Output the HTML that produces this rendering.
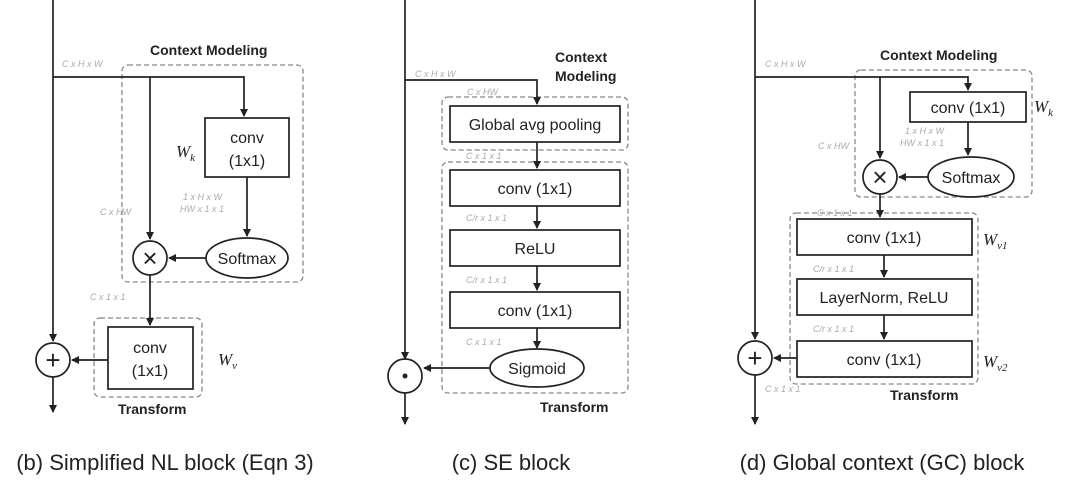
<!DOCTYPE html>
<html><head><style>
body{margin:0;background:#fff;}
svg{display:block;font-family:"Liberation Sans",sans-serif;}
.b{fill:#fff;stroke:#222;stroke-width:1.7}
.d{fill:none;stroke:#888;stroke-width:1.3;stroke-dasharray:5,3}
.l{stroke:#222;stroke-width:1.7;fill:none}
.t{font-size:16px;fill:#222;text-anchor:middle}
.s{font-size:9px;fill:#aaa;font-style:italic}
.h{font-size:14px;font-weight:bold;fill:#222}
.w{font-family:"Liberation Serif",serif;font-style:italic;font-size:17px;fill:#222}
.c{font-size:26px;fill:#222;text-anchor:middle}
.cap{font-size:22px;fill:#222;text-anchor:middle}
</style></head><body>
<svg width="1080" height="503" viewBox="0 0 1080 503">
<defs><marker id="a" markerWidth="8" markerHeight="8" refX="7" refY="4" orient="auto" markerUnits="userSpaceOnUse"><path d="M0,0L8,4L0,8z" fill="#222"/></marker></defs>

<!-- Panel b -->
<rect class="d" x="122" y="65" width="181" height="217" rx="6"/>
<rect class="d" x="94" y="318" width="108" height="79" rx="6"/>
<text class="h" x="150" y="55">Context Modeling</text>
<text class="h" x="118" y="414">Transform</text>
<text class="s" x="62" y="67">C x H x W</text>
<line class="l" x1="53" y1="0" x2="53" y2="341" marker-end="url(#a)"/>
<polyline class="l" points="53,77 244,77 244,116" marker-end="url(#a)"/>
<line class="l" x1="150" y1="77" x2="150" y2="239" marker-end="url(#a)"/>
<rect class="b" x="205" y="118" width="84" height="59"/>
<text class="t" x="247" y="143">conv</text><text class="t" x="247" y="166">(1x1)</text>
<text class="w" x="176" y="157">W<tspan font-size="11" dy="4">k</tspan></text>
<line class="l" x1="247" y1="177" x2="247" y2="236" marker-end="url(#a)"/>
<text class="s" x="183" y="200">1 x H x W</text><text class="s" x="180" y="212">HW x 1 x 1</text>
<text class="s" x="100" y="215">C x HW</text>
<ellipse class="b" cx="247" cy="258" rx="41" ry="20"/>
<text class="t" x="247" y="264">Softmax</text>
<line class="l" x1="206" y1="258" x2="169" y2="258" marker-end="url(#a)"/>
<circle class="b" cx="150" cy="258" r="17"/>
<text class="c" x="150" y="267">×</text>
<line class="l" x1="150" y1="275" x2="150" y2="325" marker-end="url(#a)"/>
<text class="s" x="90" y="300">C x 1 x 1</text>
<rect class="b" x="108" y="327" width="85" height="62"/>
<text class="t" x="150" y="353">conv</text><text class="t" x="150" y="376">(1x1)</text>
<text class="w" x="218" y="365">W<tspan font-size="11" dy="4">v</tspan></text>
<line class="l" x1="108" y1="360" x2="72" y2="360" marker-end="url(#a)"/>
<circle class="b" cx="53" cy="360" r="17"/>
<text class="c" x="53" y="369">+</text>
<line class="l" x1="53" y1="377" x2="53" y2="412" marker-end="url(#a)"/>
<text class="cap" x="165" y="470">(b) Simplified NL block (Eqn 3)</text>

<!-- Panel c -->
<rect class="d" x="442" y="97" width="186" height="53" rx="6"/>
<rect class="d" x="442" y="162" width="186" height="231" rx="6"/>
<text class="h" x="555" y="62">Context</text><text class="h" x="555" y="81">Modeling</text>
<text class="h" x="540" y="412">Transform</text>
<text class="s" x="415" y="77">C x H x W</text>
<line class="l" x1="405" y1="0" x2="405" y2="359" marker-end="url(#a)"/>
<polyline class="l" points="405,80 537,80 537,104" marker-end="url(#a)"/>
<text class="s" x="467" y="95">C x HW</text>
<rect class="b" x="450" y="106" width="170" height="36"/>
<text class="t" x="535" y="130">Global avg pooling</text>
<line class="l" x1="537" y1="142" x2="537" y2="168" marker-end="url(#a)"/>
<text class="s" x="466" y="159">C x 1 x 1</text>
<rect class="b" x="450" y="170" width="170" height="36"/>
<text class="t" x="535" y="194">conv (1x1)</text>
<line class="l" x1="537" y1="206" x2="537" y2="228" marker-end="url(#a)"/>
<text class="s" x="466" y="221">C/r x 1 x 1</text>
<rect class="b" x="450" y="230" width="170" height="36"/>
<text class="t" x="535" y="254">ReLU</text>
<line class="l" x1="537" y1="266" x2="537" y2="290" marker-end="url(#a)"/>
<text class="s" x="466" y="283">C/r x 1 x 1</text>
<rect class="b" x="450" y="292" width="170" height="36"/>
<text class="t" x="535" y="316">conv (1x1)</text>
<line class="l" x1="537" y1="328" x2="537" y2="348" marker-end="url(#a)"/>
<text class="s" x="466" y="345">C x 1 x 1</text>
<ellipse class="b" cx="537" cy="368" rx="47" ry="19"/>
<text class="t" x="537" y="374">Sigmoid</text>
<line class="l" x1="490" y1="368" x2="424" y2="368" marker-end="url(#a)"/>
<circle class="b" cx="405" cy="376" r="17"/>
<circle cx="405" cy="376" r="2.5" fill="#222"/>
<line class="l" x1="405" y1="393" x2="405" y2="424" marker-end="url(#a)"/>
<text class="cap" x="511" y="470">(c) SE block</text>

<!-- Panel d -->
<rect class="d" x="855" y="70" width="177" height="127" rx="6"/>
<rect class="d" x="790" y="213" width="188" height="171" rx="6"/>
<text class="h" x="880" y="60">Context Modeling</text>
<text class="h" x="890" y="400">Transform</text>
<text class="s" x="765" y="67">C x H x W</text>
<line class="l" x1="755" y1="0" x2="755" y2="339" marker-end="url(#a)"/>
<polyline class="l" points="755,77 968,77 968,90" marker-end="url(#a)"/>
<line class="l" x1="880" y1="77" x2="880" y2="158" marker-end="url(#a)"/>
<rect class="b" x="910" y="92" width="116" height="30"/>
<text class="t" x="968" y="113">conv (1x1)</text>
<text class="w" x="1034" y="112">W<tspan font-size="11" dy="4">k</tspan></text>
<line class="l" x1="968" y1="122" x2="968" y2="155" marker-end="url(#a)"/>
<text class="s" x="905" y="134">1 x H x W</text><text class="s" x="900" y="146">HW x 1 x 1</text>
<text class="s" x="818" y="149">C x HW</text>
<ellipse class="b" cx="971" cy="177" rx="43" ry="20"/>
<text class="t" x="971" y="183">Softmax</text>
<line class="l" x1="928" y1="177" x2="899" y2="177" marker-end="url(#a)"/>
<circle class="b" cx="880" cy="177" r="17"/>
<text class="c" x="880" y="186">×</text>
<line class="l" x1="880" y1="194" x2="880" y2="217" marker-end="url(#a)"/>
<text class="s" x="817" y="216">C x 1 x 1</text>
<rect class="b" x="797" y="219" width="175" height="36"/>
<text class="t" x="884" y="243">conv (1x1)</text>
<text class="w" x="983" y="245">W<tspan font-size="11" dy="4">v1</tspan></text>
<line class="l" x1="884" y1="255" x2="884" y2="277" marker-end="url(#a)"/>
<text class="s" x="813" y="272">C/r x 1 x 1</text>
<rect class="b" x="797" y="279" width="175" height="36"/>
<text class="t" x="884" y="303">LayerNorm, ReLU</text>
<line class="l" x1="884" y1="315" x2="884" y2="339" marker-end="url(#a)"/>
<text class="s" x="813" y="332">C/r x 1 x 1</text>
<rect class="b" x="797" y="341" width="175" height="36"/>
<text class="t" x="884" y="365">conv (1x1)</text>
<text class="w" x="983" y="367">W<tspan font-size="11" dy="4">v2</tspan></text>
<line class="l" x1="797" y1="358" x2="774" y2="358" marker-end="url(#a)"/>
<circle class="b" cx="755" cy="358" r="17"/>
<text class="c" x="755" y="367">+</text>
<line class="l" x1="755" y1="375" x2="755" y2="424" marker-end="url(#a)"/>
<text class="s" x="765" y="392">C x 1 x 1</text>
<text class="cap" x="882" y="470">(d) Global context (GC) block</text>
</svg>
</body></html>
